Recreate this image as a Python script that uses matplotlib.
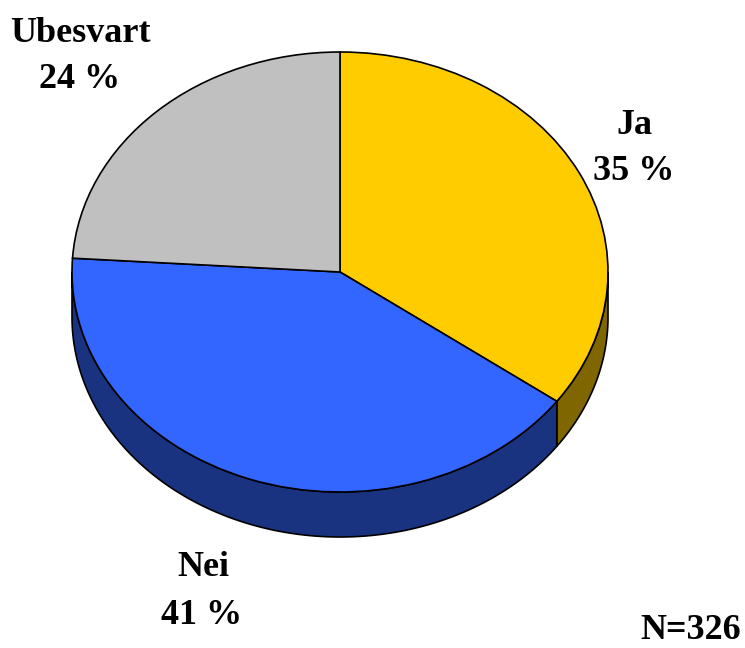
#!/usr/bin/env python3
"""Pie with a fake 3D rim: Ja / Nei / Ubesvart, N=326."""
import numpy as np
import matplotlib
matplotlib.use("Agg")
import matplotlib.pyplot as plt

labels = ["Ja", "Nei", "Ubesvart"]
shares = [35, 41, 24]
colors = ["#FFCC00", "#3366FF", "#C0C0C0"]
rim_colors = ["#806600", "#1A3380", "#606060"]
sample_note = "N=326"

W, H = 745, 648
CX, CY, RX, RY, DEPTH = 340, 272, 268, 220, 45
INK = "#000000"

plt.rcParams["font.family"] = ["Liberation Serif", "DejaVu Serif"]
fig = plt.figure(figsize=(W / 100, H / 100), dpi=100, facecolor="white")
ax = fig.add_axes([0, 0, 1, 1])

# rim first, so the top pie sits over it
start = 90.0
for share, rim in zip(shares, rim_colors):
    end = start - share * 3.6
    lo, hi = max(end, -180), min(start, 0)
    if hi > lo:
        t = np.radians(np.linspace(hi, lo, 120))
        x, y = np.cos(t), np.sin(t)
        d = DEPTH / RY
        ax.fill(np.r_[x, x[::-1]], np.r_[y, y[::-1] - d], facecolor=rim, edgecolor=INK, lw=1.2, zorder=1)
    start = end

ax.pie(shares, colors=colors, startangle=90, counterclock=False, radius=1,
       wedgeprops=dict(edgecolor=INK, linewidth=1.2, zorder=2))
ax.set_aspect("auto")
ax.set_xlim(-CX / RX, (W - CX) / RX)
ax.set_ylim(-(H - CY) / RY, CY / RY)
ax.axis("off")


def put(px, py, s, size=26, va="center"):
    ax.text((px - CX) / RX, (CY - py) / RY, s, ha="center", va=va,
            fontsize=size, fontweight="bold", color=INK, zorder=5)


put(634, 125, labels[0])
put(634, 172, f"{shares[0]} %")
put(203, 568, labels[1])
put(202, 615, f"{shares[1]} %")
put(80, 33, labels[2])
put(80, 80, f"{shares[2]} %")
put(691, 639, sample_note, size=26, va="baseline")

fig.savefig("out.png", dpi=100, facecolor="white")
